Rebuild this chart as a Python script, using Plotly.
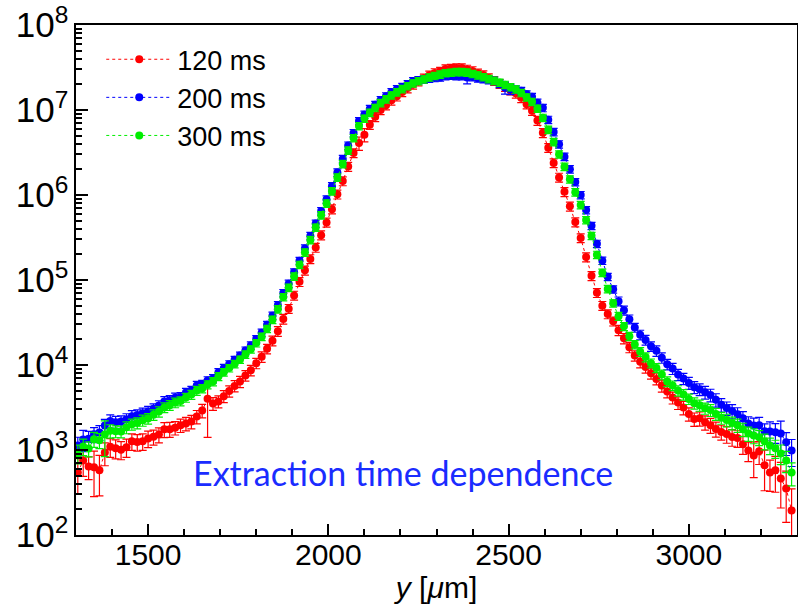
import plotly.graph_objects as go

# Positions along y [um]
y_pos = [1305, 1320, 1335, 1350, 1365, 1380, 1395, 1410, 1425, 1440,
         1455, 1470, 1485, 1500, 1515, 1530, 1545, 1560, 1575, 1590,
         1605, 1620, 1635, 1650, 1665, 1680, 1695, 1710, 1725, 1740,
         1755, 1770, 1785, 1800, 1815, 1830, 1845, 1860, 1875, 1890,
         1905, 1920, 1935, 1950, 1965, 1980, 1995, 2010, 2025, 2040,
         2055, 2070, 2085, 2100, 2115, 2130, 2145, 2160, 2175, 2190,
         2205, 2220, 2235, 2250, 2265, 2280, 2295, 2310, 2325, 2340,
         2355, 2370, 2385, 2400, 2415, 2430, 2445, 2460, 2475, 2490,
         2505, 2520, 2535, 2550, 2565, 2580, 2595, 2610, 2625, 2640,
         2655, 2670, 2685, 2700, 2715, 2730, 2745, 2760, 2775, 2790,
         2805, 2820, 2835, 2850, 2865, 2880, 2895, 2910, 2925, 2940,
         2955, 2970, 2985, 3000, 3015, 3030, 3045, 3060, 3075, 3090,
         3105, 3120, 3135, 3150, 3165, 3180, 3195, 3210, 3225, 3240,
         3255, 3270, 3285]

ms120 = [5.45e2, 7.52e2, 6.39e2, 6.27e2, 5.77e2, 9.33e2, 1.09e3, 1.05e3, 1.01e3, 1.08e3,
         1.27e3, 1.24e3, 1.27e3, 1.37e3, 1.43e3, 1.52e3, 1.75e3, 1.76e3, 1.83e3, 1.96e3,
         2.05e3, 2.16e3, 2.47e3, 2.91e3, 4.02e3, 3.53e3, 3.73e3, 4.30e3, 4.93e3, 5.68e3,
         6.39e3, 7.53e3, 8.66e3, 1.05e4, 1.25e4, 1.55e4, 1.93e4, 2.50e4, 3.48e4, 4.60e4,
         6.58e4, 9.53e4, 1.30e5, 1.77e5, 2.41e5, 3.37e5, 4.76e5, 6.82e5, 1.02e6, 1.46e6,
         2.16e6, 3.12e6, 4.08e6, 5.13e6, 6.71e6, 8.31e6, 1.00e7, 1.14e7, 1.30e7, 1.45e7,
         1.63e7, 1.81e7, 2.00e7, 2.19e7, 2.36e7, 2.56e7, 2.73e7, 2.84e7, 3.03e7, 3.07e7,
         3.12e7, 3.12e7, 3.00e7, 2.88e7, 2.70e7, 2.58e7, 2.38e7, 2.21e7, 2.04e7, 1.88e7,
         1.71e7, 1.57e7, 1.39e7, 1.17e7, 9.80e6, 7.51e6, 5.39e6, 3.60e6, 2.38e6, 1.61e6,
         1.09e6, 7.36e5, 4.80e5, 3.12e5, 1.86e5, 1.12e5, 7.07e4, 4.99e4, 3.98e4, 3.27e4,
         2.57e4, 2.06e4, 1.62e4, 1.29e4, 1.09e4, 9.46e3, 8.01e3, 6.86e3, 5.72e3, 4.89e3,
         4.14e3, 3.61e3, 3.16e3, 2.66e3, 2.31e3, 2.36e3, 2.12e3, 1.96e3, 1.77e3, 1.63e3,
         1.54e3, 1.42e3, 1.38e3, 1.17e3, 9.84e2, 8.61e2, 9.64e2, 6.63e2, 5.44e2, 5.79e2,
         4.62e2, 3.52e2, 1.94e2]

ms200 = [1.13e3, 1.33e3, 1.36e3, 1.53e3, 1.61e3, 1.94e3, 2.20e3, 2.12e3, 2.16e3, 2.30e3,
         2.50e3, 2.58e3, 2.71e3, 2.84e3, 3.06e3, 3.33e3, 3.73e3, 3.86e3, 4.13e3, 4.19e3,
         4.74e3, 5.00e3, 5.73e3, 5.88e3, 6.55e3, 6.94e3, 8.18e3, 9.17e3, 1.02e4, 1.15e4,
         1.29e4, 1.48e4, 1.70e4, 2.02e4, 2.40e4, 2.97e4, 3.80e4, 5.05e4, 7.03e4, 9.05e4,
         1.23e5, 1.68e5, 2.35e5, 3.30e5, 4.61e5, 6.45e5, 8.87e5, 1.27e6, 1.84e6, 2.66e6,
         3.82e6, 5.36e6, 7.41e6, 8.82e6, 1.03e7, 1.15e7, 1.31e7, 1.45e7, 1.62e7, 1.76e7,
         1.87e7, 2.02e7, 2.18e7, 2.25e7, 2.30e7, 2.35e7, 2.39e7, 2.42e7, 2.51e7, 2.54e7,
         2.51e7, 2.51e7, 2.42e7, 2.45e7, 2.36e7, 2.31e7, 2.26e7, 2.21e7, 2.04e7, 1.83e7,
         1.76e7, 1.75e7, 1.68e7, 1.53e7, 1.43e7, 1.22e7, 1.06e7, 7.68e6, 5.52e6, 3.95e6,
         2.82e6, 2.01e6, 1.42e6, 1.00e6, 6.65e5, 4.34e5, 2.67e5, 1.69e5, 1.09e5, 7.77e4,
         5.63e4, 4.40e4, 3.46e4, 2.76e4, 2.27e4, 1.97e4, 1.66e4, 1.47e4, 1.22e4, 1.02e4,
         9.10e3, 7.72e3, 6.93e3, 6.16e3, 5.49e3, 5.18e3, 4.78e3, 4.43e3, 3.89e3, 3.40e3,
         3.11e3, 2.88e3, 2.64e3, 2.36e3, 2.05e3, 1.94e3, 1.95e3, 1.66e3, 1.65e3, 1.62e3,
         1.56e3, 1.23e3, 9.84e2]

ms300 = [9.12e2, 1.10e3, 1.04e3, 1.34e3, 1.30e3, 1.52e3, 1.68e3, 1.66e3, 1.65e3, 1.85e3,
         2.01e3, 2.08e3, 2.24e3, 2.35e3, 2.60e3, 2.83e3, 3.17e3, 3.37e3, 3.61e3, 3.76e3,
         4.14e3, 4.49e3, 5.00e3, 5.28e3, 5.88e3, 6.40e3, 7.34e3, 8.23e3, 9.19e3, 1.03e4,
         1.16e4, 1.33e4, 1.53e4, 1.81e4, 2.15e4, 2.67e4, 3.41e4, 4.53e4, 6.31e4, 8.12e4,
         1.10e5, 1.51e5, 2.11e5, 2.96e5, 4.14e5, 5.79e5, 7.96e5, 1.11e6, 1.61e6, 2.32e6,
         3.34e6, 4.68e6, 6.47e6, 7.92e6, 9.29e6, 1.06e7, 1.21e7, 1.34e7, 1.49e7, 1.62e7,
         1.77e7, 1.91e7, 2.06e7, 2.19e7, 2.30e7, 2.42e7, 2.52e7, 2.62e7, 2.72e7, 2.76e7,
         2.80e7, 2.80e7, 2.77e7, 2.66e7, 2.56e7, 2.44e7, 2.32e7, 2.21e7, 2.10e7, 1.98e7,
         1.86e7, 1.75e7, 1.59e7, 1.41e7, 1.25e7, 1.04e7, 8.10e6, 5.86e6, 4.21e6, 3.01e6,
         2.15e6, 1.53e6, 1.08e6, 7.63e5, 5.07e5, 3.31e5, 1.98e5, 1.22e5, 7.84e4, 5.32e4,
         3.75e4, 2.85e4, 2.18e4, 1.74e4, 1.43e4, 1.24e4, 1.05e4, 9.25e3, 7.71e3, 6.41e3,
         5.74e3, 5.00e3, 4.49e3, 3.99e3, 3.56e3, 3.36e3, 3.10e3, 2.95e3, 2.66e3, 2.39e3,
         2.25e3, 2.08e3, 1.96e3, 1.75e3, 1.56e3, 1.48e3, 1.41e3, 1.27e3, 1.13e3, 1.05e3,
         9.09e2, 7.52e2, 5.42e2]

# Relative error bars [%]
ms120_err = ([45, 35, 30, 55, 50, 30, 25, 25, 24, 24,
              22, 22, 22, 22, 20, 20, 20, 20, 18, 18,
              18, 18, 18, 18, 65, 17, 16, 16, 15, 15,
              15, 14, 14, 14, 14, 13, 13, 13, 13, 12]
             + [12] * 12 + [18, 18] + [12] * 46
             + [14, 14, 14, 14, 15, 15, 15, 15, 16, 16,
                16, 17, 18, 18, 18, 19, 19, 20, 20, 20,
                22, 22, 22, 24, 26, 45, 30, 50, 40, 45, 55, 60, 80])
ms200_err = ([25, 28, 22, 20, 20, 18, 18, 17, 17, 16,
              16, 15, 15, 15, 14, 14, 14, 13, 13, 13,
              12, 12, 12, 12, 11, 11, 11, 11, 10, 10]
             + [10] * 42 + [16] + [10] * 6 + [16, 14] + [10] * 19
             + [12, 12, 12, 12, 13, 13, 13, 14, 14, 14,
                15, 15, 15, 16, 16, 16, 17, 17, 18, 18,
                18, 19, 19, 20, 20, 22, 24, 22, 30, 26, 40, 30, 35])
ms300_err = ([25, 22, 20, 20, 20, 45, 18, 16, 16, 16,
              15, 15, 15, 14, 14, 14, 13, 13, 13, 12,
              12, 12, 12, 11, 11, 11, 11, 10, 10, 10]
             + [10] * 70
             + [11, 11, 11, 11, 12, 12, 12, 12, 13, 13,
                13, 14, 14, 14, 15, 15, 15, 16, 16, 16,
                17, 17, 18, 18, 19, 20, 20, 21, 22, 24, 26, 28, 30])

series = [
    ("120 ms", ms120, ms120_err, "#ff0000"),
    ("200 ms", ms200, ms200_err, "#0000ff"),
    ("300 ms", ms300, ms300_err, "#00ee00"),
]

fig = go.Figure()
for name, vals, errs, col in series:
    abs_err = [v * e / 100.0 for v, e in zip(vals, errs)]
    fig.add_trace(go.Scatter(
        x=y_pos, y=vals, name=name, mode="lines+markers",
        line=dict(color=col, width=1, dash="dot"),
        marker=dict(color=col, size=8, symbol="circle"),
        error_y=dict(type="data", array=abs_err, color=col, thickness=1.2, width=4),
    ))

tick_font = dict(family="Liberation Sans, Arial, sans-serif", size=30, color="black")
ytick_font = dict(family="Liberation Sans, Arial, sans-serif", size=28, color="black")
legend_font = dict(family="Liberation Sans, Arial, sans-serif", size=27, color="black")

fig.update_layout(
    width=798, height=604,
    margin=dict(l=76, r=1, t=25, b=69),
    paper_bgcolor="white", plot_bgcolor="white",
    font=tick_font,
    showlegend=True,
    legend=dict(x=0.035, y=0.98, xanchor="left", yanchor="top",
                bgcolor="rgba(255,255,255,0)", font=legend_font,
                itemwidth=66, tracegroupgap=0),
    xaxis=dict(range=[1300, 3300], showgrid=False, zeroline=False,
               showline=True, linecolor="black", linewidth=2, mirror=True,
               ticks="inside", ticklen=11, tickwidth=2, tickcolor="black",
               tick0=1500, dtick=500, tickfont=tick_font,
               ticklabelstandoff=-8, ticklabeloverflow="allow",
               minor=dict(ticks="inside", ticklen=6, tickwidth=2, dtick=100, tickcolor="black"),
               title=dict(text="<i>y</i> [<i>μ</i>m]", font=tick_font, standoff=4),
               automargin=False),
    yaxis=dict(type="log", range=[2, 8], showgrid=False, zeroline=False,
               showline=True, linecolor="black", linewidth=2, mirror=True,
               ticks="inside", ticklen=12, tickwidth=2, tickcolor="black",
               dtick=1, exponentformat="power", tickfont=ytick_font,
               ticklabeloverflow="allow",
               minor=dict(ticks="inside", ticklen=6, tickwidth=2, dtick="D1", tickcolor="black"),
               automargin=False),
)

fig.add_annotation(
    text="Extraction time dependence", xref="paper", yref="paper",
    x=(403 - 76) / 721, y=(535 - 472) / 510, xanchor="center", yanchor="middle",
    showarrow=False, font=dict(family="Lato, Open Sans, sans-serif", size=34, color="#1a2cff"),
)

fig.write_html("out.html")
